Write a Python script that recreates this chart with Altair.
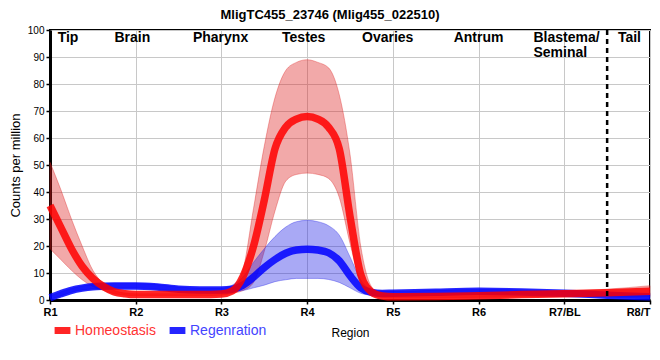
import altair as alt
import pandas as pd

title_text = "MligTC455_23746 (Mlig455_022510)"
series_names = ["Homeostasis", "Regenration"]
tick_labels = ["R1", "R2", "R3", "R4", "R5", "R6", "R7/BL", "R8/T"]
tick_values = [1, 2, 3, 4, 5, 6, 7, 8]
region_names = ["Tip", "Brain", "Pharynx", "Testes", "Ovaries", "Antrum", "Tail"]
region_name_x = [1.21, 1.96, 2.99, 3.96, 4.94, 6.0, 7.76]
blastema_label = ["Blastema/", "Seminal"]
blastema_x = [6.64]
divider_x = [7.5]

x_pos = [1, 1.125, 1.25, 1.375, 1.5, 1.625, 1.75, 1.875, 2, 2.25, 2.5, 2.75,
         3, 3.125, 3.25, 3.375, 3.5, 3.625, 3.75, 3.875, 4, 4.125, 4.25, 4.375,
         4.5, 4.625, 4.75, 4.875, 5, 5.5, 6, 6.5, 7, 7.5, 8]

hom_mean = [35, 27, 19, 12.5, 8, 5, 3, 2.3, 2, 2, 2, 2,
            2.2, 3.3, 8.6, 20, 37, 56, 64, 67, 68, 67, 64, 56,
            31, 9.5, 3, 1.5, 1.2, 1.3, 1.6, 2, 2.3, 2.7, 3.2]
hom_high = [51, 41, 30, 20, 11, 6, 3.5, 2.6, 2.3, 2.3, 2.3, 2.3,
            2.6, 4, 11, 34, 57, 75, 85, 88, 89, 88, 86, 76,
            54, 20, 5, 2, 1.6, 1.8, 2.2, 2.7, 3.2, 4, 5.3]
hom_low = [19, 15, 11, 7.5, 5, 3.5, 2.3, 1.8, 1.6, 1.6, 1.6, 1.6,
           1.8, 2.5, 3.5, 6.5, 18, 33, 44, 46.5, 47, 46.5, 45, 38,
           21, 6.5, 2, 1, 0.8, 0.8, 1, 1.2, 1.4, 1.4, 1.2]

reg_mean = [0.8, 2.3, 3.6, 4.4, 4.9, 5.1, 5.2, 5.2, 5.2, 4.8, 4, 3.7,
            3.7, 4, 5.5, 8.5, 12, 15, 17.3, 18.5, 18.8, 18.5, 17.5, 14.5,
            9, 4.5, 2.8, 2.4, 2.5, 2.9, 3.2, 3, 2.5, 1.8, 1.2]
reg_high = [1.5, 3, 4.3, 5.2, 5.7, 6, 6.1, 6.1, 6.1, 5.7, 4.8, 4.4,
            4.4, 5.5, 8.5, 14, 19, 23.5, 27, 29, 29.5, 29, 27.5, 24,
            16, 7.5, 3.8, 3.2, 3.2, 3.6, 3.9, 3.7, 3.2, 2.5, 2]
reg_low = [0.2, 1.5, 2.9, 3.7, 4.1, 4.3, 4.4, 4.4, 4.4, 4, 3.3, 3.1,
           3, 3.1, 3.5, 4.5, 5.5, 6.8, 7.5, 8, 8, 8, 7.6, 6.5,
           4.5, 2.5, 1.8, 1.6, 1.8, 2.2, 2.5, 2.3, 1.8, 1.1, 0.5]

rows = []
for name, m, lo, hi in [(series_names[0], hom_mean, hom_low, hom_high),
                        (series_names[1], reg_mean, reg_low, reg_high)]:
    for i, xv in enumerate(x_pos):
        rows.append({"x": xv, "mean": m[i], "low": lo[i], "high": hi[i], "series": name})
df = pd.DataFrame(rows)

line_colors = ["#ff0000", "#0000ff"]
band_colors = ["#dc1e1e", "#1e1ee6"]
legend_text_colors = ["#ff3333", "#4444ff"]
legend_x = [1, 116]
label_expr = "[" + ",".join(f"'{t}'" for t in tick_labels) + "][datum.value - 1]"

x_axis = alt.Axis(values=tick_values, labelExpr=label_expr, labelFlush=False,
                  labelAlign={"condition": {"test": f"datum.value == {tick_values[-1]}", "value": "right"},
                              "value": "center"},
                  labelFontWeight="bold", labelFontSize=11,
                  titleFontWeight="normal", titleFontSize=12,
                  titlePadding=10, labelPadding=2)
y_axis = alt.Axis(values=list(range(0, 101, 10)), labelFontSize=10,
                  titleFontWeight="normal", titleFontSize=13,
                  titlePadding=5, labelPadding=2)
x_scale = alt.Scale(domain=[1, 8], nice=False, zero=False)
y_scale = alt.Scale(domain=[0, 100], nice=False)

X = alt.X("x:Q", title="Region", scale=x_scale, axis=x_axis)


def band_layer(i):
    return alt.Chart(df).transform_filter(alt.datum.series == series_names[i]).mark_area(
        interpolate="monotone", fillOpacity=0.38, strokeOpacity=0.35, strokeWidth=1,
        fill=band_colors[i], stroke=band_colors[i]).encode(
        x=X,
        y=alt.Y("low:Q", scale=y_scale, title="Counts per million", axis=y_axis),
        y2="high:Q",
    )


def legend_for(i):
    return alt.Legend(title=None, orient="none", legendX=legend_x[i], legendY=289,
                      direction="horizontal", symbolType="stroke",
                      symbolStrokeWidth=7, symbolSize=250, symbolOpacity=0.85,
                      labelFontSize=14, labelColor=legend_text_colors[i],
                      labelOffset=1, padding=0)


line_reg = alt.Chart(df).transform_filter(alt.datum.series == series_names[1]).mark_line(
    interpolate="monotone", strokeWidth=7.5, opacity=0.85).encode(
    x=X,
    y=alt.Y("mean:Q", scale=y_scale, title="Counts per million", axis=y_axis),
    color=alt.Color("series:N", scale=alt.Scale(domain=[series_names[1]], range=[line_colors[1]]),
                    legend=legend_for(1)),
)

line_hom = alt.Chart(df).transform_filter(alt.datum.series == series_names[0]).mark_line(
    interpolate="monotone", strokeWidth=7.5, opacity=0.85).encode(
    x=X,
    y=alt.Y("mean:Q", scale=y_scale, title="Counts per million", axis=y_axis),
    stroke=alt.Stroke("series:N", scale=alt.Scale(domain=[series_names[0]], range=[line_colors[0]]),
                      legend=legend_for(0)),
)

divider = alt.Chart(pd.DataFrame({"x": divider_x})).mark_rule(
    color="black", strokeWidth=2.5, strokeDash=[5, 4]).encode(x=X)

names_df = pd.DataFrame({"x": region_name_x, "name": region_names})
region_text = alt.Chart(names_df).mark_text(
    fontWeight="bold", fontSize=14, baseline="alphabetic", align="center",
    color="black").encode(x=X, y=alt.value(12), text="name:N")

blast_df = pd.DataFrame({"x": blastema_x, "name": ["\n".join(blastema_label)]})
blast_text = alt.Chart(blast_df).mark_text(
    fontWeight="bold", fontSize=14, baseline="alphabetic", align="left",
    lineBreak="\n", lineHeight=15, color="black").encode(
    x=X, y=alt.value(12), text="name:N")

chart = alt.layer(band_layer(0), band_layer(1), line_reg, line_hom, divider,
                  region_text, blast_text).properties(
    width=600, height=270,
    title=alt.TitleParams(title_text, fontSize=13, fontWeight="bold", color="black",
                          anchor="middle", dx=-20, dy=1, offset=4),
    autosize=alt.AutoSizeParams(type="none"),
    padding={"left": 42, "top": 22, "right": 2, "bottom": 50},
).configure(
    font="Liberation Sans",
).configure_view(
    stroke="black", strokeWidth=2,
).configure_axis(
    domainColor="black", domainWidth=3, tickColor="black", tickSize=4, tickWidth=1.5,
    gridColor="#c8c8c8", gridWidth=1, labelColor="black", titleColor="black",
)

chart.save("out.html", embed_options={"renderer": "svg", "actions": False})
